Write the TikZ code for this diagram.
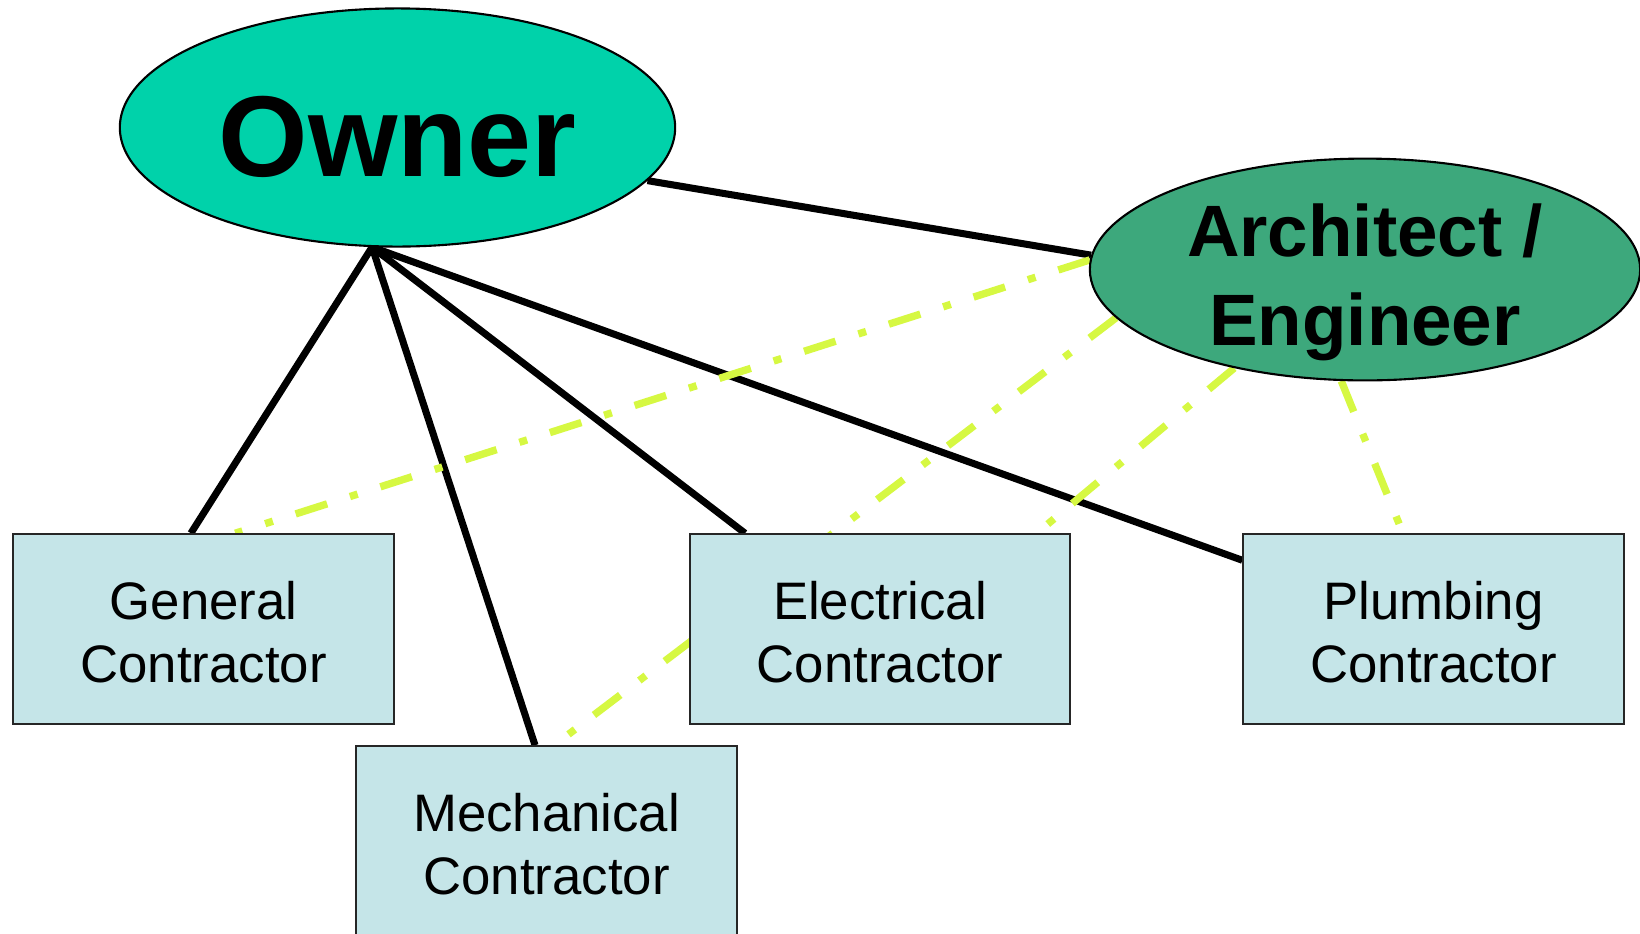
\documentclass[tikz,border=0pt]{standalone}
\usepackage{fontspec}
\setmainfont{Liberation Sans}
\usetikzlibrary{shapes.geometric,backgrounds,calc}

\definecolor{ownercol}{RGB}{0,210,170}
\definecolor{archcol}{RGB}{61,168,124}
\definecolor{boxcol}{RGB}{197,229,232}
\definecolor{linkcol}{RGB}{214,248,66}

\begin{document}
\begin{tikzpicture}[x=0.01cm,y=-0.01cm,
  party/.style={ellipse,draw=black,line width=0.6pt,inner sep=0pt},
  trade/.style={rectangle,draw=black!85,line width=0.6pt,fill=boxcol,
    minimum width=3.8cm,minimum height=1.893cm,inner sep=0pt,
    font=\fontsize{15}{17.9}\selectfont},
  contract/.style={black,line width=2pt},
  advise/.style={linkcol,line width=2.1pt,
    dash pattern=on 9.4pt off 6.8pt on 2.3pt off 6.8pt}]

\useasboundingbox (0,0) rectangle (1640,933);
\clip (0,0) rectangle (1640,933);

% the two parties
\node[party,fill=ownercol,minimum width=5.55cm,minimum height=2.38cm,
  font=\fontsize{32.7}{36}\selectfont\bfseries] (owner) at (397.5,127.5)
  {\raisebox{-2.6pt}[\height][\depth]{Owner}};
\node[party,fill=archcol,minimum width=5.5cm,minimum height=2.21cm,inner ysep=-3pt,
  font=\fontsize{20.7}{25.3}\selectfont\bfseries] (arch) at (1365,269.5)
  {\raisebox{-4pt}[\height][\depth]{\begin{tabular}{@{}c@{}}Architect /\\Engineer\end{tabular}}};

% the contractors
\node[trade] (gen) at (203.5,629)
  {\raisebox{-2.8pt}[\height][\depth]{\begin{tabular}{@{}c@{}}General\\Contractor\end{tabular}}};
\node[trade] (elec) at (880,629)
  {\raisebox{-2.8pt}[\height][\depth]{\begin{tabular}{@{}c@{}}Electrical\\Contractor\end{tabular}}};
\node[trade] (plumb) at (1433.5,629)
  {\raisebox{-2.8pt}[\height][\depth]{\begin{tabular}{@{}c@{}}Plumbing\\Contractor\end{tabular}}};
\node[trade] (mech) at (546.5,841)
  {\raisebox{-2.8pt}[\height][\depth]{\begin{tabular}{@{}c@{}}Mechanical\\Contractor\end{tabular}}};

\begin{scope}[on background layer]
\coordinate (hub) at (owner.258);

% contracts held by the owner
\draw[contract] (owner.348) -- (arch.177);
\draw[contract] (hub) -- ($(gen.north west)!0.467!(gen.north east)$);
\draw[contract] (hub) -- ($(mech.north west)!0.47!(mech.north east)$);
\draw[contract] (hub) -- ($(elec.north west)!0.147!(elec.north east)$);
\draw[contract] (hub) -- (plumb);

% lines from the architect / engineer
\draw[advise] (arch.178) -- ($(gen.north west)!0.583!(gen.north east)$);
\draw[advise] (arch.191) -- ($(mech.north west)!0.52!(mech.north east)$);
\draw[advise] (arch.217) -- ($(elec.north west)!0.91!(elec.north east)$);
\draw[advise] (arch.258) -- ($(plumb.north west)!0.42!(plumb.north east)$);
\end{scope}

\end{tikzpicture}
\end{document}
